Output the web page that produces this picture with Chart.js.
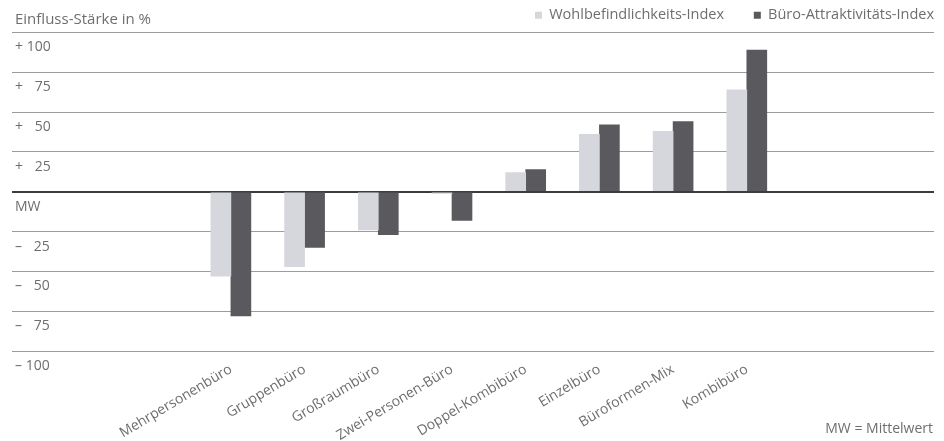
<!DOCTYPE html>
<html>
<head>
<meta charset="utf-8">
<script src="https://cdn.jsdelivr.net/npm/chart.js@4/dist/chart.umd.min.js"></script>
<style>
  html, body { margin: 0; padding: 0; background: #fff; }
  #wrap { width: 944px; height: 441px; }
</style>
</head>
<body>
<div id="wrap"><canvas id="bueroChart"></canvas></div>
<script>
// Bürotypen
const kategorien = ['Mehrpersonenbüro', 'Gruppenbüro', 'Großraumbüro', 'Zwei-Personen-Büro',
    'Doppel-Kombibüro', 'Einzelbüro', 'Büroformen-Mix', 'Kombibüro'];

// Einfluss-Stärke in %
const wohlbefinden = [-53, -47, -24, -1, 12, 36, 38, 64];
const attraktivitaet = [-78, -35, -27, -18, 14, 42, 44, 89];

const tickWerte = [100, 75, 50, 25, 0, -25, -50, -75, -100];
const tickTexte = ['+ 100', '+ \u200775', '+ \u200750', '+ \u200725', 'MW',
    '\u2013 \u200725', '\u2013 \u200750', '\u2013 \u200775', '\u2013 100'];

const schrift = "'Open Sans', 'Liberation Sans', Arial, sans-serif";
const grau = '#6e6e6e';

// Zusatztexte oben links / unten rechts, Legende etwas nach rechts
const textPlugin = {
    id: 'zusatzText',
    afterLayout(chart) {
        chart.legend.right += 8;
    },
    afterDraw(chart) {
        const c = chart.ctx;
        c.save();
        c.fillStyle = grau;
        c.font = '15px ' + schrift;
        c.textBaseline = 'middle';
        c.textAlign = 'left';
        c.fillText('Einfluss-Stärke in %', 15, 20);
        c.font = '14px ' + schrift;
        c.textAlign = 'right';
        c.fillText('MW = Mittelwert', 933, 429);
        c.restore();
    }
};

const ctx = document.getElementById('bueroChart').getContext('2d');
const bueroChart = new Chart(ctx, {
    type: 'bar',
    data: {
        datasets: [{
            label: 'Wohlbefindlichkeits-Index',
            data: wohlbefinden.map((v, i) => ({ x: i, y: v })),
            backgroundColor: '#d6d7dc',
            barThickness: 20
        }, {
            label: 'Büro-Attraktivitäts-Index',
            data: attraktivitaet.map((v, i) => ({ x: i, y: v })),
            backgroundColor: '#5a5a5e',
            barThickness: 20
        }]
    },
    options: {
        responsive: true,
        maintainAspectRatio: false,
        animation: false,
        layout: { padding: { left: 6, right: 10, top: 0, bottom: 0 } },
        scales: {
            x: {
                type: 'linear',
                offset: false,
                min: -2.97,
                max: 9.54,
                grid: { display: false },
                border: { display: false },
                afterBuildTicks: axis => {
                    axis.ticks = kategorien.map((k, i) => ({ value: i }));
                },
                afterFit: axis => { axis.height = 90; },
                ticks: {
                    autoSkip: false,
                    minRotation: 31,
                    maxRotation: 31,
                    padding: 2,
                    color: grau,
                    font: { family: schrift, size: 14 },
                    callback: v => kategorien[v]
                }
            },
            y: {
                min: -100,
                max: 100,
                border: { display: false },
                afterBuildTicks: axis => {
                    axis.ticks = tickWerte.map(v => ({ value: v }));
                },
                grid: {
                    drawTicks: false,
                    color: ctx => ctx.tick && ctx.tick.value === 0 ? '#3c3c3c' : '#9c9c9c',
                    lineWidth: ctx => ctx.tick && ctx.tick.value === 0 ? 2 : 1
                },
                ticks: {
                    mirror: true,
                    padding: 3,
                    labelOffset: 15,
                    color: grau,
                    font: { family: schrift, size: 14 },
                    callback: v => tickTexte[tickWerte.indexOf(v)]
                }
            }
        },
        plugins: {
            legend: {
                position: 'top',
                align: 'end',
                labels: {
                    boxWidth: 7,
                    boxHeight: 7,
                    padding: 8,
                    color: grau,
                    font: { family: schrift, size: 14.5 },
                    // mehr Abstand zwischen den beiden Einträgen
                    generateLabels: chart => Chart.defaults.plugins.legend.labels.generateLabels(chart)
                        .map((l, i) => i === 0 ? { ...l, text: l.text + '\u2003\u2002' } : l)
                }
            },
            tooltip: { enabled: false }
        }
    },
    plugins: [textPlugin]
});
</script>
</body>
</html>
